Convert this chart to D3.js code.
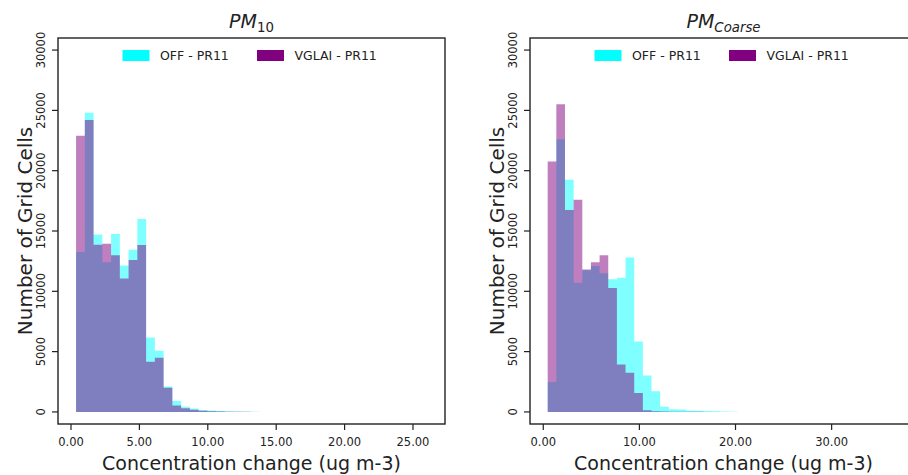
<!DOCTYPE html>
<html>
<head>
<meta charset="utf-8">
<script src="https://cdn.jsdelivr.net/npm/d3@7"></script>
<style>
  body { margin: 0; background: #fff; }
  text { font-family: "DejaVu Sans", sans-serif; fill: #222; }
</style>
</head>
<body>
<div id="chart"></div>
<script>
// series names and colours
const seriesNames = ["OFF - PR11", "VGLAI - PR11"];
const seriesColors = ["#00ffff", "#800080"];

// PM10 histogram (counts per bin)
const pm10BinStart = 0.37;
const pm10BinWidth = 0.64;
const pm10Off   = [13250, 24800, 14700, 12400, 14750, 12140, 13440, 16000, 6180, 5070, 2100, 900, 440, 280, 160, 120, 80, 50, 35, 20, 10];
const pm10Vglai = [22900, 24200, 13860, 13940, 13000, 11060, 12600, 13830, 4160, 4490, 2000, 540, 300, 180, 100, 60, 40, 25, 15, 10, 5];
const pm10XTicks = [0, 5, 10, 15, 20, 25];

// PM coarse histogram
const coarseBinStart = 0.46;
const coarseBinWidth = 0.9;
const coarseOff   = [2490, 22600, 19240, 10700, 11750, 12100, 11500, 11000, 11130, 12800, 5840, 3020, 1720, 440, 220, 200, 120, 100, 80, 60, 40, 20];
const coarseVglai = [20760, 25500, 16750, 17600, 11800, 12400, 13000, 10270, 3930, 3240, 1580, 140, 60, 30, 20, 15, 10, 8, 5, 4, 3, 2];
const coarseXTicks = [0, 10, 20, 30];

const yTicks = [0, 5000, 10000, 15000, 20000, 25000, 30000];

const svg = d3.select("#chart").append("svg")
  .attr("width", 908)
  .attr("height", 475);

const panels = [
  { left: 58, xDomain: [-0.95, 27.34], start: pm10BinStart, width: pm10BinWidth,
    series: [pm10Off, pm10Vglai], ticks: pm10XTicks, title: ["PM", "10", false] },
  { left: 530, xDomain: [-1.38, 38.88], start: coarseBinStart, width: coarseBinWidth,
    series: [coarseOff, coarseVglai], ticks: coarseXTicks, title: ["PM", "Coarse", true] }
];

const plotTop = 38, plotBottom = 424, plotW = 387;

panels.forEach(p => {
  const x = d3.scaleLinear().domain(p.xDomain).range([p.left, p.left + plotW]);
  const y = d3.scaleLinear().domain([-1000, 31000]).range([plotBottom, plotTop]);
  const cx = p.left + plotW / 2;

  // histograms, stepfilled
  p.series.forEach((vals, si) => {
    const pts = [[p.start, 0]];
    vals.forEach((v, i) => {
      pts.push([p.start + i * p.width, v]);
      pts.push([p.start + (i + 1) * p.width, v]);
    });
    pts.push([p.start + vals.length * p.width, 0]);
    svg.append("path")
      .attr("d", d3.line().x(d => x(d[0])).y(d => y(d[1]))(pts) + "Z")
      .attr("fill", seriesColors[si])
      .attr("fill-opacity", 0.5);
  });

  // frame
  svg.append("rect")
    .attr("x", p.left).attr("y", plotTop)
    .attr("width", plotW).attr("height", plotBottom - plotTop)
    .attr("fill", "none").attr("stroke", "#222").attr("stroke-width", 1.4);

  // y ticks
  yTicks.forEach(t => {
    svg.append("line")
      .attr("x1", p.left - 6).attr("x2", p.left)
      .attr("y1", y(t)).attr("y2", y(t))
      .attr("stroke", "#222").attr("stroke-width", 1.2);
    svg.append("text")
      .attr("transform", `translate(${p.left - 13},${y(t)}) rotate(-90)`)
      .attr("text-anchor", "middle")
      .style("font-size", "11.5px")
      .text(t);
  });

  // x ticks
  p.ticks.forEach(t => {
    svg.append("line")
      .attr("x1", x(t)).attr("x2", x(t))
      .attr("y1", plotBottom).attr("y2", plotBottom + 6)
      .attr("stroke", "#222").attr("stroke-width", 1.2);
    svg.append("text")
      .attr("x", x(t)).attr("y", 446)
      .attr("text-anchor", "middle")
      .style("font-size", "11.5px")
      .text(d3.format(".2f")(t));
  });

  // axis labels
  svg.append("text")
    .attr("x", cx).attr("y", 470)
    .attr("text-anchor", "middle")
    .style("font-size", "19px")
    .text("Concentration change (ug m-3)");
  svg.append("text")
    .attr("transform", `translate(${p.left - 26},${(plotTop + plotBottom) / 2}) rotate(-90)`)
    .attr("text-anchor", "middle")
    .style("font-size", "20px")
    .text("Number of Grid Cells");

  // title
  const title = svg.append("text")
    .attr("x", cx).attr("y", 28)
    .attr("text-anchor", "middle")
    .style("font-size", "19px");
  title.append("tspan").style("font-style", "italic").text(p.title[0]);
  title.append("tspan")
    .attr("dy", 4)
    .style("font-size", "13.3px")
    .style("font-style", p.title[2] ? "italic" : "normal")
    .text(p.title[1]);

  // legend
  const lx = [cx - 129, cx + 5.5];
  seriesNames.forEach((name, i) => {
    svg.append("rect")
      .attr("x", lx[i]).attr("y", 50)
      .attr("width", 27).attr("height", 11)
      .attr("fill", seriesColors[i]);
    svg.append("text")
      .attr("x", lx[i] + 37.5).attr("y", 60)
      .style("font-size", "12.5px")
      .text(name);
  });
});
</script>
</body>
</html>
